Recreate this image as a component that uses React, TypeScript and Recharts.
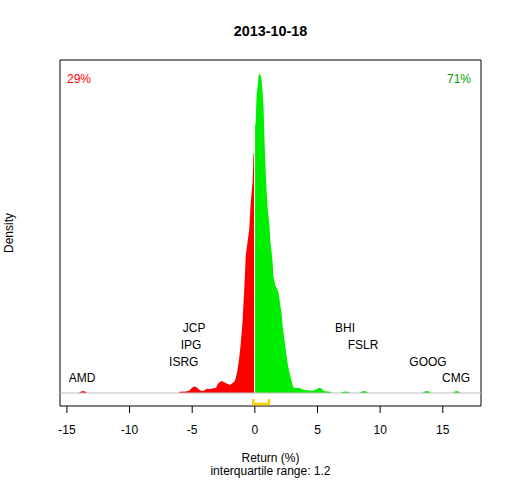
import React from 'react';
import {
  ComposedChart, Area, Line, XAxis, YAxis, ReferenceArea, ReferenceLine, ReferenceDot, Label,
} from 'recharts';

// ---- data ----
const chartTitle = '2013-10-18';
const xTicks = [-15, -10, -5, 0, 5, 10, 15];
const xDomain: [number, number] = [-15.55, 18.05];
const yDomain: [number, number] = [-0.0406, 1.0406];

// density of returns below zero (x, density scaled so that the peak is ~1)
const negDensity: [number, number][] = [
  [-14.05, 0], [-13.9, 0.004], [-13.72, 0.006], [-13.5, 0.004], [-13.4, 0],
  [-6.05, 0], [-6.0, 0.004], [-5.5, 0.005], [-5.25, 0.007], [-5.05, 0.015], [-4.85, 0.02],
  [-4.65, 0.018], [-4.45, 0.01], [-4.25, 0.006], [-4.05, 0.008], [-3.85, 0.013], [-3.6, 0.012],
  [-3.35, 0.015], [-3.11, 0.0156], [-2.91, 0.031], [-2.64, 0.0375], [-2.38, 0.032], [-1.98, 0.025],
  [-1.64, 0.035], [-1.52, 0.047], [-1.38, 0.072], [-1.25, 0.109], [-1.12, 0.156], [-0.98, 0.223],
  [-0.85, 0.322], [-0.72, 0.431], [-0.58, 0.473], [-0.45, 0.509], [-0.34, 0.5875], [-0.26, 0.625],
  [-0.18, 0.66], [-0.1, 0.749], [-0.06, 0.749], [-0.06, 0],
];

// density of returns above zero
const posDensity: [number, number][] = [
  [0.02, 0], [0.02, 0.8375], [0.056, 0.8375], [0.136, 0.926], [0.215, 0.957], [0.295, 0.988],
  [0.375, 0.999], [0.455, 0.994], [0.535, 0.978], [0.615, 0.942], [0.694, 0.895], [0.774, 0.785],
  [0.854, 0.703], [0.934, 0.634], [1.014, 0.582], [1.093, 0.551], [1.173, 0.52], [1.253, 0.469],
  [1.333, 0.442], [1.413, 0.41], [1.492, 0.363], [1.572, 0.348], [1.652, 0.334], [1.732, 0.328],
  [1.812, 0.322], [1.891, 0.313], [1.971, 0.291], [2.051, 0.27], [2.131, 0.249], [2.211, 0.2125],
  [2.33, 0.176], [2.474, 0.134], [2.61, 0.094], [2.745, 0.067], [2.873, 0.047], [3.009, 0.025],
  [3.129, 0.0156], [3.3, 0.016], [3.6, 0.016], [3.8, 0.011], [4.2, 0.009], [4.6, 0.007],
  [4.85, 0.01], [5.1, 0.016], [5.3, 0.015], [5.5, 0.006], [5.8, 0.005], [6.05, 0.004], [6.15, 0],
  [6.85, 0], [7.05, 0.004], [7.25, 0.005], [7.45, 0.004], [7.6, 0],
  [8.35, 0], [8.55, 0.005], [8.75, 0.006], [8.95, 0.004], [9.05, 0],
  [13.35, 0], [13.55, 0.005], [13.75, 0.006], [13.95, 0.004], [14.05, 0],
  [15.75, 0], [15.95, 0.005], [16.1, 0.006], [16.3, 0.004], [16.4, 0],
];

const stockNames = ['AMD', 'ISRG', 'IPG', 'JCP', 'BHI', 'FSLR', 'GOOG', 'CMG'];
const stockReturns = [-13.79, -5.67, -5.09, -4.85, 7.2, 8.63, 13.82, 16.06];
const stockLevels = [0.047, 0.097, 0.15, 0.203, 0.203, 0.15, 0.097, 0.047];

const quartiles = [-0.12, 1.12];
const iqrText = 'interquartile range: 1.2';
const negShare = '29%';
const posShare = '71%';

// ---- helpers ----
const toRows = (pts: [number, number][]) => pts.map(([x, y]) => ({ x, y }));
const bracketRows = [
  { x: quartiles[0], y: -0.0188 },
  { x: quartiles[0], y: -0.0344 },
  { x: quartiles[1], y: -0.0344 },
  { x: quartiles[1], y: -0.0188 },
];

const FONT = '"Liberation Sans", Arial, sans-serif';

export default function App() {
  return (
    <div style={{ position: 'absolute', left: 0, top: 0, width: 512, height: 480, background: '#fff' }}>
      <ComposedChart
        width={512}
        height={480}
        margin={{ top: 60, right: 31, bottom: 44, left: 60 }}
        style={{ fontFamily: FONT }}
      >
        <XAxis
          type="number"
          dataKey="x"
          domain={xDomain}
          ticks={xTicks}
          interval={0}
          allowDataOverflow
          axisLine={false}
          tickLine={{ stroke: '#000' }}
          tickSize={7}
          tickMargin={12}
          tick={{ fill: '#000', fontSize: 12, fontFamily: FONT }}
          height={30}
        >
          <Label
            content={(p: any) => {
              const vb = p.viewBox || { x: 60, y: 406, width: 421, height: 30 };
              const cx = vb.x + vb.width / 2;
              return (
                <g>
                  <text x={cx} y={461.5} textAnchor="middle" fontSize={12} fill="#000" fontFamily={FONT}>
                    Return (%)
                  </text>
                  <text x={cx} y={475} textAnchor="middle" fontSize={12} fill="#000" fontFamily={FONT}>
                    {iqrText}
                  </text>
                </g>
              );
            }}
          />
        </XAxis>
        <YAxis type="number" dataKey="y" domain={yDomain} allowDataOverflow hide />

        <Area
          data={toRows(negDensity)}
          dataKey="y"
          type="linear"
          stroke="none"
          fill="#FF0000"
          fillOpacity={1}
          baseValue={0}
          dot={false}
          activeDot={false}
          isAnimationActive={false}
        />
        <Area
          data={toRows(posDensity)}
          dataKey="y"
          type="linear"
          stroke="none"
          fill="#00EE00"
          fillOpacity={1}
          baseValue={0}
          dot={false}
          activeDot={false}
          isAnimationActive={false}
        />
        <ReferenceLine y={0} stroke="#BEBEBE" strokeWidth={1} ifOverflow="visible" />
        <Line
          data={bracketRows}
          dataKey="y"
          type="linear"
          stroke="#FFD000"
          strokeWidth={2.5}
          dot={false}
          activeDot={false}
          isAnimationActive={false}
        />

        {stockNames.map((name, i) => (
          <ReferenceDot
            key={name}
            x={stockReturns[i]}
            y={stockLevels[i]}
            r={1}
            fill="none"
            stroke="none"
            ifOverflow="visible"
            label={{ value: name, position: 'center', fill: '#000', fontSize: 12, fontFamily: FONT }}
          />
        ))}

        <ReferenceArea
          x1={xDomain[0]}
          x2={xDomain[1]}
          y1={yDomain[0]}
          y2={yDomain[1]}
          fill="none"
          fillOpacity={0}
          stroke="#000"
          strokeWidth={1}
          ifOverflow="visible"
        >
          <Label
            content={(p: any) => {
              const vb = p.viewBox || { x: 60, y: 60, width: 421, height: 346 };
              const cx = vb.x + vb.width / 2;
              const cy = vb.y + vb.height / 2;
              return (
                <g>
                  <text x={cx} y={vb.y - 24} textAnchor="middle" fontSize={14.4} fontWeight="bold" fill="#000" fontFamily={FONT}>
                    {chartTitle}
                  </text>
                  <text x={vb.x + 7} y={vb.y + 22.5} textAnchor="start" fontSize={12} fill="#FF0000" fontFamily={FONT}>
                    {negShare}
                  </text>
                  <text x={vb.x + vb.width - 10} y={vb.y + 22.5} textAnchor="end" fontSize={12} fill="#00A000" fontFamily={FONT}>
                    {posShare}
                  </text>
                  <text
                    x={13.3}
                    y={cy}
                    textAnchor="middle"
                    fontSize={12}
                    fill="#000"
                    fontFamily={FONT}
                    transform={`rotate(-90, 13.3, ${cy})`}
                  >
                    Density
                  </text>
                </g>
              );
            }}
          />
        </ReferenceArea>
      </ComposedChart>
    </div>
  );
}
